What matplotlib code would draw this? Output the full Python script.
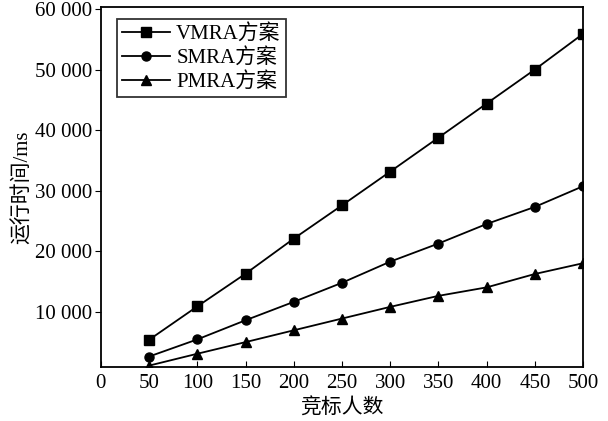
import matplotlib.pyplot as plt
from matplotlib.ticker import FuncFormatter

plt.rcParams['font.family'] = ['Liberation Serif', 'Noto Sans CJK SC']

# datos
bidders = [50, 100, 150, 200, 250, 300, 350, 400, 450, 500]
vmra = [5370, 10880, 16280, 22070, 27570, 33140, 38750, 44380, 50000, 55900]
smra = [2600, 5430, 8590, 11630, 14780, 18270, 21260, 24490, 27310, 30730]
pmra = [1100, 3060, 4980, 6930, 8870, 10800, 12620, 14020, 16230, 18010]
x_ticks = [0, 50, 100, 150, 200, 250, 300, 350, 400, 450, 500]
y_ticks = [10000, 20000, 30000, 40000, 50000, 60000]

fig = plt.figure(figsize=(6.08, 4.21), dpi=100)
ax = fig.add_axes([0.166, 0.128, 0.793, 0.855])

ax.plot(bidders, vmra, color='black', marker='s', markersize=6.5, lw=1.3, label='VMRA方案')
ax.plot(bidders, smra, color='black', marker='o', markersize=6.5, lw=1.3, label='SMRA方案')
ax.plot(bidders, pmra, color='black', marker='^', markersize=7, lw=1.3, label='PMRA方案')

ax.set_xlim(0, 500)
ax.set_ylim(850, 60300)
ax.set_xticks(x_ticks)
ax.set_yticks(y_ticks)
ax.yaxis.set_major_formatter(FuncFormatter(lambda v, p: f"{int(v):,}".replace(',', ' ')))
ax.tick_params(axis='x', direction='in', length=4, labelsize=15, pad=5)
ax.tick_params(axis='y', direction='out', length=4, labelsize=15, pad=2)
for s in ax.spines.values():
    s.set_linewidth(1.3)

ax.set_xlabel('竞标人数', fontsize=15, labelpad=4)
ax.set_ylabel('运行时间/ms', fontsize=15, labelpad=2)

leg = ax.legend(loc='upper left', fontsize=15, frameon=True, fancybox=False,
                edgecolor='black', handlelength=2.3, borderpad=0.25,
                labelspacing=0.2, handletextpad=0.3, borderaxespad=0,
                bbox_to_anchor=(0.033, 0.968))
leg.get_frame().set_linewidth(1.3)

fig.savefig('out.png', dpi=100)
